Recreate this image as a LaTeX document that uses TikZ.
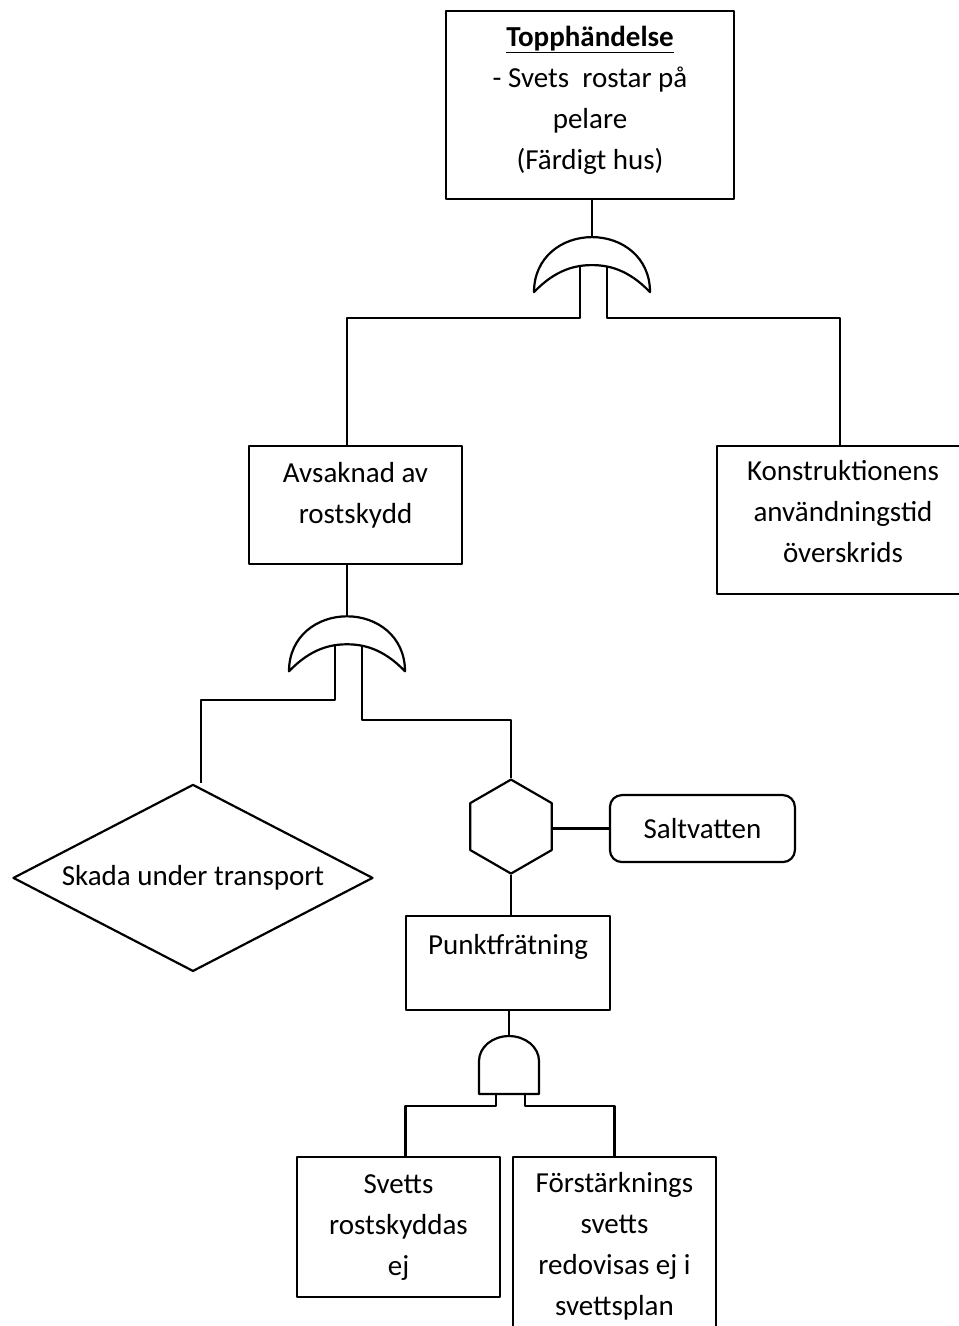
\documentclass[tikz,border=0pt]{standalone}
\usepackage{fontspec}
\setmainfont{Carlito}
\usetikzlibrary{positioning,shapes.geometric}

\tikzset{
  orgate/.pic={
    \draw[fill=white] (-58,-55) .. controls (-58,-20) and (-30,0) .. (0,0)
      .. controls (30,0) and (58,-20) .. (58,-55)
      .. controls (36,-32) and (16,-28) .. (0,-28)
      .. controls (-16,-28) and (-36,-32) .. (-58,-55) -- cycle;
    \coordinate (-l) at (-12,-29);
    \coordinate (-r) at (15,-29);
  },
  andgate/.pic={
    \draw[fill=white] (-30,-58) -- (-30,-25) arc[start angle=180, end angle=0, x radius=30, y radius=25] -- (30,-58) -- cycle;
    \coordinate (-l) at (-13,-58);
    \coordinate (-r) at (16,-58);
  }
}

\begin{document}
\begin{tikzpicture}[
  x=1pt, y=1pt,
  line width=2.2pt, line join=round,
  box/.style={rectangle, draw, align=center, inner sep=0pt},
  event/.style={diamond, draw, aspect=1.92, inner sep=0pt, minimum width=360pt, minimum height=187pt},
  cond/.style={regular polygon, regular polygon sides=6, shape border rotate=30, draw, minimum size=94pt, inner sep=0pt},
  ext/.style={rectangle, draw, rounded corners=12pt, inner sep=0pt, minimum width=185pt, minimum height=67pt},
  every node/.style={font=\fontsize{29}{41}\selectfont}
]
\useasboundingbox (0,0) rectangle (959,-1326);

% Top event
\node[box, minimum width=288pt, text height=158pt, text depth=30pt] (TOP) at (590,-105)
  {\underline{\textbf{Topphändelse}}\\- Svets\ \ rostar på\\pelare\\(Färdigt hus)};
\coordinate[below=37pt of TOP, xshift=2pt] (gate1);
\pic (g1) at (gate1) {orgate};
\draw (gate1) -- (gate1 |- TOP.south);

% Level 2
\node[box, below=245pt of TOP, xshift=-234.5pt, minimum width=213pt, text height=77pt, text depth=41pt] (AVS) {Avsaknad av\\rostskydd};
\node[box, below=245pt of TOP, xshift=253pt, minimum width=252pt, text height=116pt, text depth=32pt] (KON) {Konstruktionens\\användningstid\\överskrids};

\coordinate[below=51pt of AVS, xshift=-8.5pt] (gate2);
\pic (g2) at (gate2) {orgate};
\draw (gate2) -- (gate2 |- AVS.south);

\draw (g1-l) -- ++(0,-52) -| (gate2 |- AVS.north);
\draw (g1-r) -- ++(0,-52) -| ([xshift=-3pt]KON.north);

% Level 3
\node[event, below=218pt of AVS, xshift=-162.5pt] (SKADA) {Skada under transport};
\node[cond, below=213pt of AVS, xshift=155.5pt] (HEX) {};
\node[ext, right=56pt of HEX, yshift=-2pt] (SALT) {Saltvatten};
\node[box, below=40pt of HEX, xshift=-3pt, minimum width=204pt, text height=39pt, text depth=55pt] (PUNKT) {Punktfrätning};

\draw (g2-l) -- ++(0,-55) -| ([xshift=8pt]SKADA.north);
\draw (g2-r) -- ++(0,-75) -| (HEX.north);
\draw (HEX.east |- SALT.west) -- (SALT.west);
\draw (HEX.south) -- (PUNKT.north -| HEX.south);

% Level 4
\coordinate[below=25pt of PUNKT, xshift=1pt] (gate3);
\pic (g3) at (gate3) {andgate};
\draw (gate3) -- (gate3 |- PUNKT.south);

\node[box, below=145pt of PUNKT, xshift=-109.5pt, minimum width=203pt, text height=118pt, text depth=22pt] (SVETTS) {Svetts\\rostskyddas\\ej};
\node[box, below=145pt of PUNKT, xshift=106.5pt, minimum width=203pt, text height=158pt, text depth=18pt] (FORST) {Förstärknings\\svetts\\redovisas ej i\\svettsplan};

\draw (g3-l) -- ++(0,-12) -| ([xshift=7pt]SVETTS.north);
\draw (g3-r) -- ++(0,-12) -| (FORST.north);

\end{tikzpicture}
\end{document}
